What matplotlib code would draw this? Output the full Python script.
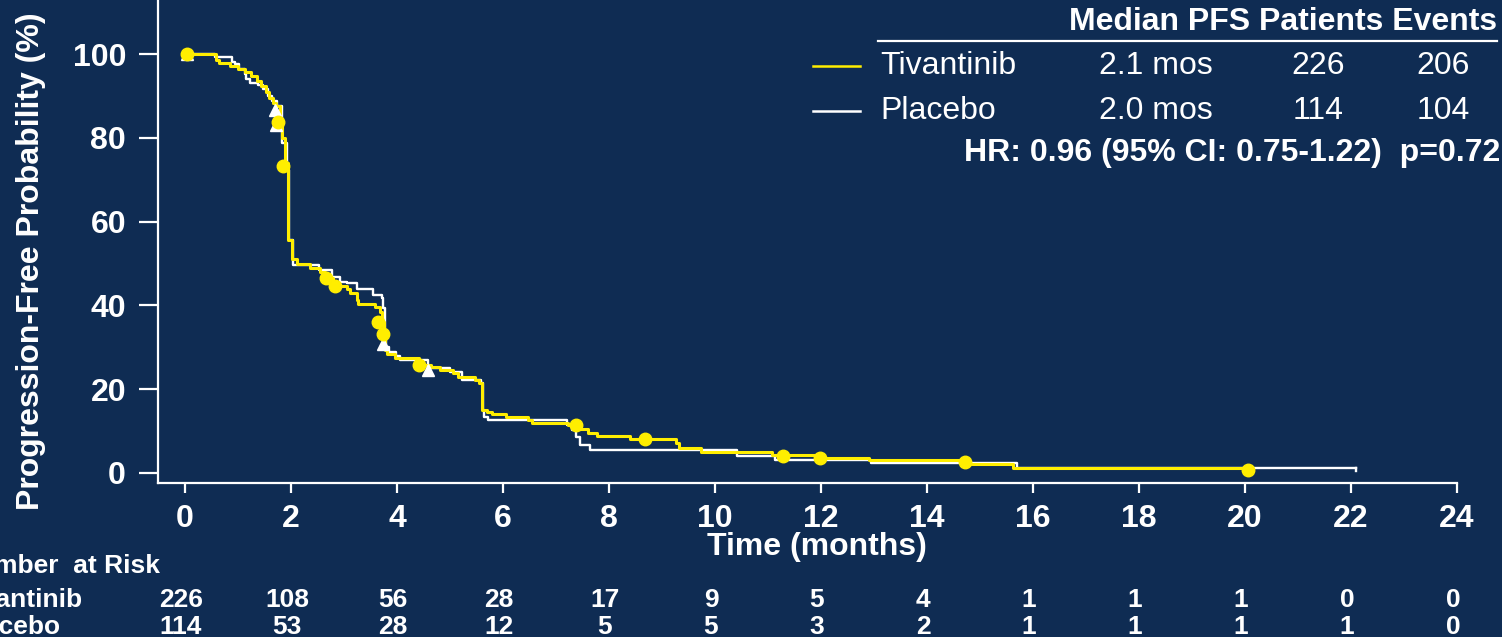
import matplotlib
matplotlib.use("Agg")
import matplotlib.pyplot as plt
import numpy as np

plt.rcParams['font.family'] = ['Liberation Sans', 'DejaVu Sans']

# --- Kaplan-Meier step data (time in months, progression-free %) ---
tiv_t = [0, 0.58, 0.65, 0.85, 1.00, 1.13, 1.24, 1.36, 1.44, 1.52, 1.59, 1.66, 1.71,
         1.80, 1.84, 1.89, 1.95, 2.01, 2.11, 2.36, 2.55, 2.65, 2.80, 3.05, 3.11,
         3.24, 3.27, 3.58, 3.68, 3.72, 3.75, 3.77, 3.82, 3.96, 4.42, 4.65, 4.81,
         5.06, 5.15, 5.47, 5.55, 5.60, 5.69, 5.79, 6.05, 6.48, 6.55, 7.22, 7.42,
         7.60, 7.78, 8.39, 9.26, 9.33, 9.73, 11.07, 12.00, 12.90, 14.71, 15.63]
tiv_s = [100, 98.6, 97.8, 97.2, 96.4, 95.7, 94.8, 93.6, 92.4, 91.0, 89.6, 88.3, 87.5,
         83.8, 80.0, 74.0, 55.6, 51.0, 50.0, 48.9, 48.0, 46.5, 44.6, 43.8, 42.9,
         41.3, 40.3, 39.7, 38.5, 36.1, 33.2, 29.4, 28.4, 27.4, 25.8, 25.4, 24.6,
         23.9, 23.0, 22.2, 21.4, 15.0, 14.6, 14.1, 13.4, 12.6, 12.0, 11.5, 10.5,
         9.5, 8.8, 8.2, 7.1, 5.9, 5.1, 4.3, 3.5, 3.1, 2.1, 1.1]
tiv_end = 20.06

pbo_t = [0, 0.57, 0.88, 0.94, 1.02, 1.13, 1.16, 1.23, 1.38, 1.48, 1.57, 1.64, 1.74,
         1.83, 1.92, 1.96, 2.04, 2.52, 2.77, 2.92, 3.05, 3.24, 3.55, 3.71, 3.74,
         3.77, 3.80, 3.84, 3.99, 4.06, 4.59, 5.00, 5.22, 5.58, 5.62, 5.65, 5.72,
         7.20, 7.31, 7.38, 7.45, 7.64, 10.42, 11.14, 12.94, 15.70]
pbo_s = [100, 99.2, 98.2, 97.7, 96.4, 95.2, 94.0, 93.2, 92.6, 91.6, 90.1, 88.9, 87.5,
         78.7, 72.3, 55.6, 49.6, 48.4, 46.9, 45.7, 45.3, 43.8, 42.5, 41.7, 39.3,
         33.3, 30.1, 28.9, 27.9, 27.0, 25.0, 24.2, 22.2, 21.4, 15.0, 13.4, 12.6,
         11.5, 10.3, 8.7, 6.7, 5.5, 4.1, 3.1, 2.3, 1.1]
pbo_end = 22.1

# censored observations
tiv_cens_t = [0.04, 1.76, 1.85, 2.66, 2.83, 3.65, 3.73, 4.42, 7.38, 8.68, 11.28, 11.99, 14.71, 20.06]
tiv_cens_s = [100, 83.8, 73.3, 46.5, 44.6, 36.1, 33.2, 25.8, 11.5, 8.0, 4.1, 3.5, 2.7, 0.8]
pbo_cens_t = [0.03, 1.70, 1.72, 3.73, 4.58]
pbo_cens_s = [100, 86.6, 83.1, 30.7, 24.6]

# number at risk
risk_times = [0, 2, 4, 6, 8, 10, 12, 14, 16, 18, 20, 22, 24]
tiv_risk = [226, 108, 56, 28, 17, 9, 5, 4, 1, 1, 1, 0, 0]
pbo_risk = [114, 53, 28, 12, 5, 5, 3, 2, 1, 1, 1, 1, 0]

# summary table
arms = ["Tivantinib", "Placebo"]
median_pfs = ["2.1 mos", "2.0 mos"]
patients = ["226", "114"]
events = ["206", "104"]
hr_text = "HR: 0.96 (95% CI: 0.75-1.22)  p=0.72"

BG = "#0f2c53"
YEL = "#ffee00"
WHITE = "white"
FS = 23
RISK_FS = 19

W, H = 1502, 637
fig = plt.figure(figsize=(W / 100, H / 100), dpi=100, facecolor=BG)


def fx(px):
    return px / W


def fy(py):
    return 1 - py / H


ax = fig.add_axes([fx(158), fy(483), fx(1457) - fx(158), 483 / H])
ax.set_facecolor(BG)
ax.set_xlim(-0.509, 24)
ax.set_ylim(-2.39, 112.9)

for s in ("top", "right"):
    ax.spines[s].set_visible(False)
for s in ("left", "bottom"):
    ax.spines[s].set_color(WHITE)
    ax.spines[s].set_linewidth(1.6)

ax.set_xticks(risk_times)
ax.set_yticks([0, 20, 40, 60, 80, 100])
ax.tick_params(axis='y', colors=WHITE, length=14, width=1.6, pad=9, labelsize=FS)
ax.tick_params(axis='x', colors=WHITE, length=7, width=1.6, pad=8, labelsize=FS)
for lab in ax.get_xticklabels() + ax.get_yticklabels():
    lab.set_fontweight('bold')

# curves
pt = list(pbo_t) + [pbo_end]
ps = list(pbo_s) + [pbo_s[-1]]
ax.step(pt, ps, where='post', color=WHITE, lw=1.7, zorder=3)
ax.plot([pbo_end, pbo_end], [pbo_s[-1], 0.4], color=WHITE, lw=1.7, zorder=3)

tt = list(tiv_t) + [tiv_end]
ts = list(tiv_s) + [tiv_s[-1]]
ax.step(tt, ts, where='post', color=YEL, lw=2.2, zorder=4)

ax.plot(pbo_cens_t, pbo_cens_s, linestyle='none', marker='^', ms=8,
        color=WHITE, zorder=5)
ax.plot(tiv_cens_t, tiv_cens_s, linestyle='none', marker='o', ms=9,
        color=YEL, zorder=6)

# axis titles
fig.text(fx(31), fy(261), "Progression-Free Probability (%)", color=WHITE,
         fontsize=FS, fontweight='bold', rotation=90, ha='center', va='center')
fig.text(fx(817), fy(547), "Time (months)", color=WHITE, fontsize=FS,
         fontweight='bold', ha='center', va='center')

# number-at-risk table
left = -41
fig.text(fx(left), fy(566), "Number  at Risk", color=WHITE, fontsize=RISK_FS,
         fontweight='bold', ha='left', va='center')
fig.text(fx(left), fy(600), "Tivantinib", color=WHITE, fontsize=RISK_FS,
         fontweight='bold', ha='left', va='center')
fig.text(fx(left), fy(627), "Placebo", color=WHITE, fontsize=RISK_FS,
         fontweight='bold', ha='left', va='center')
for t, a, b in zip(risk_times, tiv_risk, pbo_risk):
    xp = ax.transData.transform((t, 0))[0] - 4
    fig.text(xp / W, fy(600), str(a), color=WHITE, fontsize=RISK_FS,
             fontweight='bold', ha='center', va='center')
    fig.text(xp / W, fy(627), str(b), color=WHITE, fontsize=RISK_FS,
             fontweight='bold', ha='center', va='center')

# summary table
fig.text(fx(1497), fy(22), "Median PFS Patients Events", color=WHITE,
         fontsize=FS, fontweight='bold', ha='right', va='center')
fig.add_artist(plt.Line2D([fx(878), fx(1497)], [fy(41), fy(41)], color=WHITE, lw=1.6))
row_y = [66, 111]
row_col = [YEL, WHITE]
for i in range(2):
    y = row_y[i]
    fig.add_artist(plt.Line2D([fx(813), fx(860)], [fy(y), fy(y)],
                              color=row_col[i], lw=1.8))
    fig.text(fx(880), fy(y), arms[i], color=WHITE, fontsize=FS,
             ha='left', va='center')
    fig.text(fx(1156), fy(y), median_pfs[i], color=WHITE, fontsize=FS,
             ha='center', va='center')
    fig.text(fx(1318), fy(y), patients[i], color=WHITE, fontsize=FS,
             ha='center', va='center')
    fig.text(fx(1443), fy(y), events[i], color=WHITE, fontsize=FS,
             ha='center', va='center')
fig.text(fx(1500), fy(153), hr_text, color=WHITE, fontsize=FS,
         fontweight='bold', ha='right', va='center')

fig.savefig("out.png", dpi=100, facecolor=BG)
